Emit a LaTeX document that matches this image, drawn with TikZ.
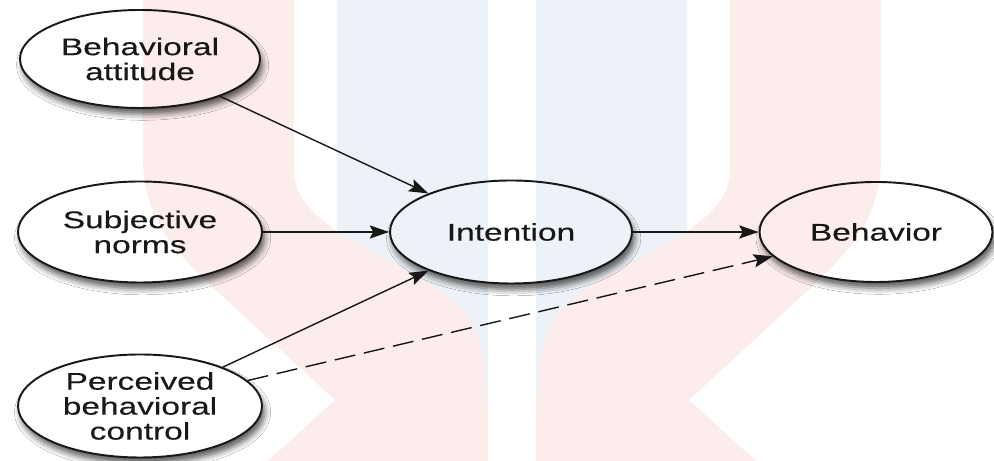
\documentclass[tikz,border=0pt]{standalone}
\usepackage{fontspec}
\setmainfont{Liberation Sans}[FakeStretch=1.39,FakeBold=0.3]
\usepackage{tikz}
\usetikzlibrary{shapes.geometric,arrows.meta,shadows.blur}

\definecolor{wmpink}{RGB}{253,236,236}
\definecolor{wmblue}{RGB}{236,242,247}
\definecolor{ink}{RGB}{25,25,25}

\begin{document}
\begin{tikzpicture}[
  construct/.style={ellipse,draw=ink,line width=1.1pt,fill=white,
    minimum width=4.84cm,minimum height=2.02cm,inner sep=0pt,align=center,
    text=ink,font=\fontsize{13.7}{14.2}\selectfont,
    blur shadow={shadow xshift=1.5pt,shadow yshift=-3.5pt,shadow blur radius=3.5pt,shadow opacity=65}},
  link/.style={draw=ink,line width=0.8pt,-{Stealth[length=11pt,width=7.5pt,inset=2pt]}},
  guess/.style={dash pattern=on 12pt off 5pt}]
\useasboundingbox (0,0) rectangle (19.88,9.22);
\fill[white] (0,0) rectangle (19.88,9.22);

% the five constructs
\node [construct,minimum width=4.8cm,minimum height=1.96cm] (att) at (2.80,8.04) {Behavioral\\attitude};
\node [construct,minimum width=4.88cm] (norms) at (2.80,4.58) {Subjective\\norms};
\node [construct,minimum width=4.88cm,minimum height=2.06cm] (perc) at (2.80,1.10) {Perceived\\behavioral\\control};
\node [construct,minimum height=2.06cm] (int) at (10.22,4.58) {Intention};
\node [construct,minimum width=4.66cm,minimum height=2.0cm] (beh) at (17.52,4.58) {Behavior};

% paths
\draw [link] (att) -- (int);
\draw [link] (norms) -- (int);
\draw [link] (perc) -- (int);
\draw [link] (int) -- (beh);
\draw [link,guess] (perc) -- (beh);

% faint logo over everything (left half, then its mirror)
\begin{scope}[blend mode=multiply,x=0.2mm,y=-0.2mm,yshift=9.22cm]
  \foreach \s/\d in {1/0cm,-1/20.48cm}{
    \begin{scope}[xshift=\d,xscale=\s]
      \begin{scope}
        \clip (337,0) rectangle (488,461);
        \fill [wmblue] (294,0) -- (488,0) -- (488,461)
          .. controls (488,380) and (485,345) .. (470,320)
          .. controls (430,260) and (294,240) .. (294,170) -- cycle;
      \end{scope}
      \fill [wmpink] (143,0) -- (143,160)
        .. controls (143,220) and (180,255) .. (207,282) -- (335,400) -- (268,461)
        -- (488,461) .. controls (488,380) and (485,345) .. (470,320)
        .. controls (430,260) and (294,240) .. (294,170) -- (294,0) -- cycle;
    \end{scope}
  }
\end{scope}
\end{tikzpicture}
\end{document}
